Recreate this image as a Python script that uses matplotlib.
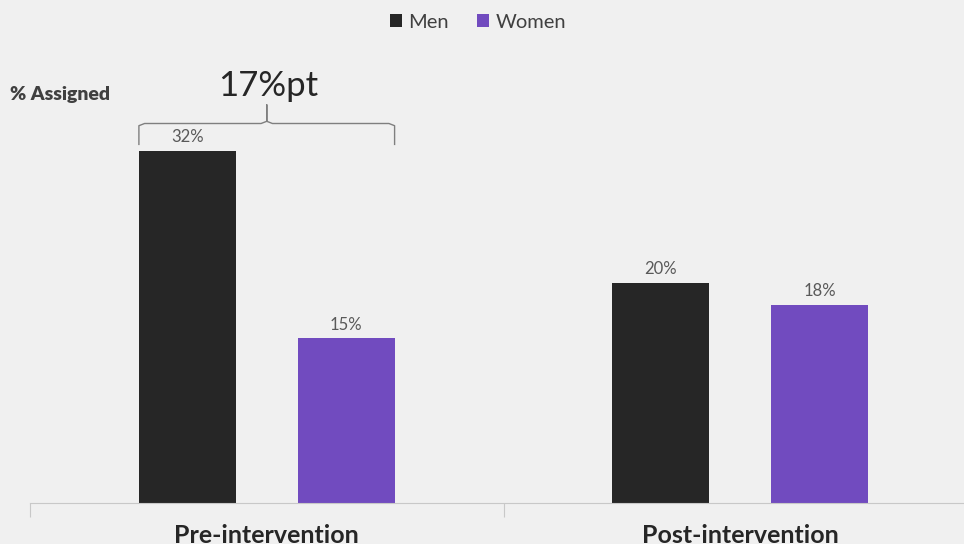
import matplotlib.pyplot as plt
import numpy as np

categories = ["Pre-intervention", "Post-intervention"]
men = [32, 20]
women = [15, 18]
series_names = ["Men", "Women"]

bg = "#f0f0f0"
c_men = "#262626"
c_women = "#714bbf"
gray = "#595959"

plt.rcParams['font.family'] = ['Lato', 'DejaVu Sans']

fig = plt.figure(figsize=(9.64, 5.44), dpi=100, facecolor=bg)
ax = fig.add_axes([30/964, 41/544, 947/964, 440/544], facecolor=bg)

x = np.arange(len(categories))
w = 0.2046
off = 0.1677
b1 = ax.bar(x - off, men, w, color=c_men, label=series_names[0])
b2 = ax.bar(x + off, women, w, color=c_women, label=series_names[1])

for bars, vals in ((b1, men), (b2, women)):
    for r, v in zip(bars, vals):
        ax.text(r.get_x() + r.get_width()/2, v + 0.5, f"{v}%", ha='center', va='bottom',
                fontsize=12, color=gray)

ax.set_xlim(-0.5, 1.5)
ax.set_ylim(0, 40)
ax.set_yticks([])
for s in ('top', 'right', 'left'):
    ax.spines[s].set_visible(False)
ax.spines['bottom'].set_color('#c8c8c8')
ax.set_xticks([-0.5, 0.5, 1.5])
ax.set_xticklabels([])
ax.tick_params(axis='x', which='major', length=10, color='#c8c8c8')
ax.set_xticks(x, minor=True)
ax.set_xticklabels(categories, minor=True, fontsize=18, fontweight='bold', color='#262626')
ax.tick_params(axis='x', which='minor', length=0, pad=15)

# bracket over the pre-intervention gap
x0 = b1[0].get_x()
x1 = b2[0].get_x() + b2[0].get_width()
xm = (x0 + x1) / 2
yb, yt, yp = 32.6, 34.5, 36.2
r = 0.012
bx = [x0, x0, x0 + r, xm - r, xm, xm, xm, xm + r, x1 - r, x1, x1]
by = [yb, yt - 0.2, yt, yt, yt + 0.2, yp, yt + 0.2, yt, yt, yt - 0.2, yb]
ax.plot(bx, by, color='#7f7f7f', lw=1, clip_on=False)
diff = men[0] - women[0]
ax.text(xm + 0.002, yp + 0.3, f"{diff}%pt", ha='center', va='bottom', fontsize=25,
        fontweight='normal', color='#262626')

fig.text(10/964, 1 - 95/544, "% Assigned", ha='left', va='center', fontsize=14,
         fontweight='heavy', color='#404040')

fig.legend(loc='center', bbox_to_anchor=(478/964, 1 - 22/544), ncol=2, frameon=False,
           fontsize=14.5, handlelength=0.6, handleheight=0.6, handletextpad=0.3,
           columnspacing=1.4, labelcolor='#404040')

fig.savefig("out.png", dpi=100, facecolor=bg)
